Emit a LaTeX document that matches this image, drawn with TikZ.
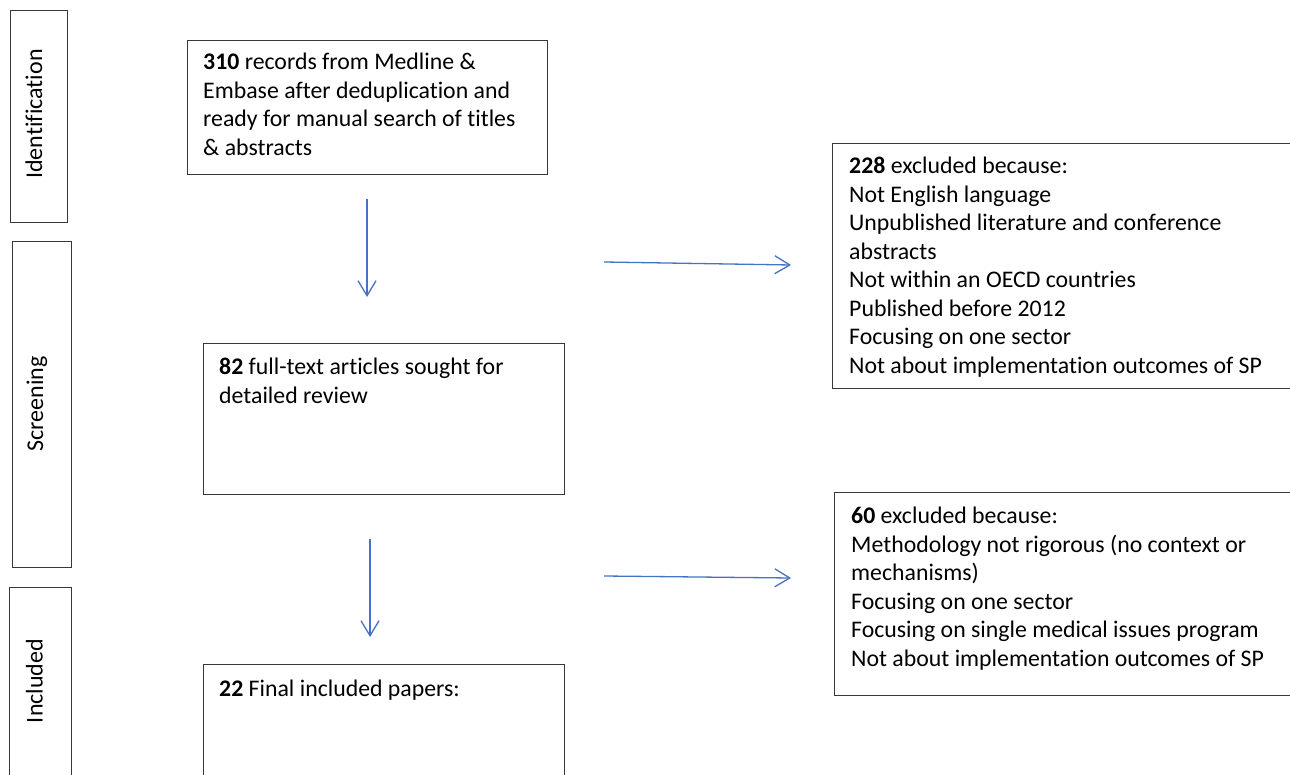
\documentclass[tikz,border=0pt]{standalone}
\usepackage{fontspec}
\setmainfont{Carlito}[Ligatures=NoCommon]
\usetikzlibrary{arrows.meta}
\begin{document}
\begin{tikzpicture}[x=1pt,y=-1pt,
  boxst/.style={draw=black!78, line width=1.3pt, inner sep=0pt, anchor=north west},
  txt/.style={anchor=north west, inner sep=0pt, align=left, text=black,
    font=\fontsize{23.8}{28.5}\selectfont},
  side/.style={rotate=90, inner sep=0pt, text=black, font=\fontsize{24}{28}\selectfont},
  flow/.style={draw={rgb,255:red,68;green,114;blue,196}, line width=1.3pt,
    -{Straight Barb[length=15pt,width=18pt,line width=1.3pt]}}]
\useasboundingbox (0,0) rectangle (1290,775);
\clip (0,0) rectangle (1290,775);

% stage boxes on the left
\node[boxst, minimum width=57pt, minimum height=212pt] (sid) at (10,10) {};
\node[side] (lid) at (34,114) {Identification};
\node[boxst, minimum width=59pt, minimum height=326pt] (sscr) at (12,241) {};
\node[side] (lscr) at (37,404) {Screening};
\node[boxst, minimum width=62pt, minimum height=220pt] (sinc) at (9,587) {};
\node[side] (linc) at (34.5,681) {Included};

% main boxes
\node[boxst, minimum width=360pt, minimum height=134pt] (b1) at (187,40) {};
\node[txt] (t1) at (203,49.5) {\strut\textbf{310} records from Medline \&\\Embase after deduplication and\\ready for manual search of titles\\\& abstracts};

\node[boxst, minimum width=361pt, minimum height=151pt] (b2) at (203,343) {};
\node[txt] (t2) at (219,354.5) {\strut\textbf{82} full-text articles sought for\\detailed review};

\node[boxst, minimum width=361pt, minimum height=140pt] (b3) at (203,664) {};
\node[txt] (t3) at (219,676.5) {\strut\textbf{22} Final included papers:};

% exclusion boxes
\node[boxst, minimum width=480pt, minimum height=245pt] (e1) at (832,143) {};
\node[txt] (te1) at (849,153.5) {\strut\textbf{228} excluded because:\\Not English language\\Unpublished literature and conference\\abstracts\\Not within an OECD countries\\Published before 2012\\Focusing on one sector\\Not about implementation outcomes of SP};

\node[boxst, minimum width=480pt, minimum height=203pt] (e2) at (834,492) {};
\node[txt] (te2) at (851,503.5) {\strut\textbf{60} excluded because:\\Methodology not rigorous (no context or\\mechanisms)\\Focusing on one sector\\Focusing on single medical issues program\\Not about implementation outcomes of SP};

% arrow end points
\coordinate (d1s) at (367,199);
\coordinate (d1e) at (367,297);
\coordinate (d2s) at (370,539);
\coordinate (d2e) at (370,637);
\coordinate (h1s) at (604,262);
\coordinate (h1e) at (791,265);
\coordinate (h2s) at (604,576);
\coordinate (h2e) at (791,578);

\draw[flow] (d1s) -- (d1e);
\draw[flow] (d2s) -- (d2e);
\draw[flow] (h1s) -- (h1e);
\draw[flow] (h2s) -- (h2e);
\end{tikzpicture}
\end{document}
